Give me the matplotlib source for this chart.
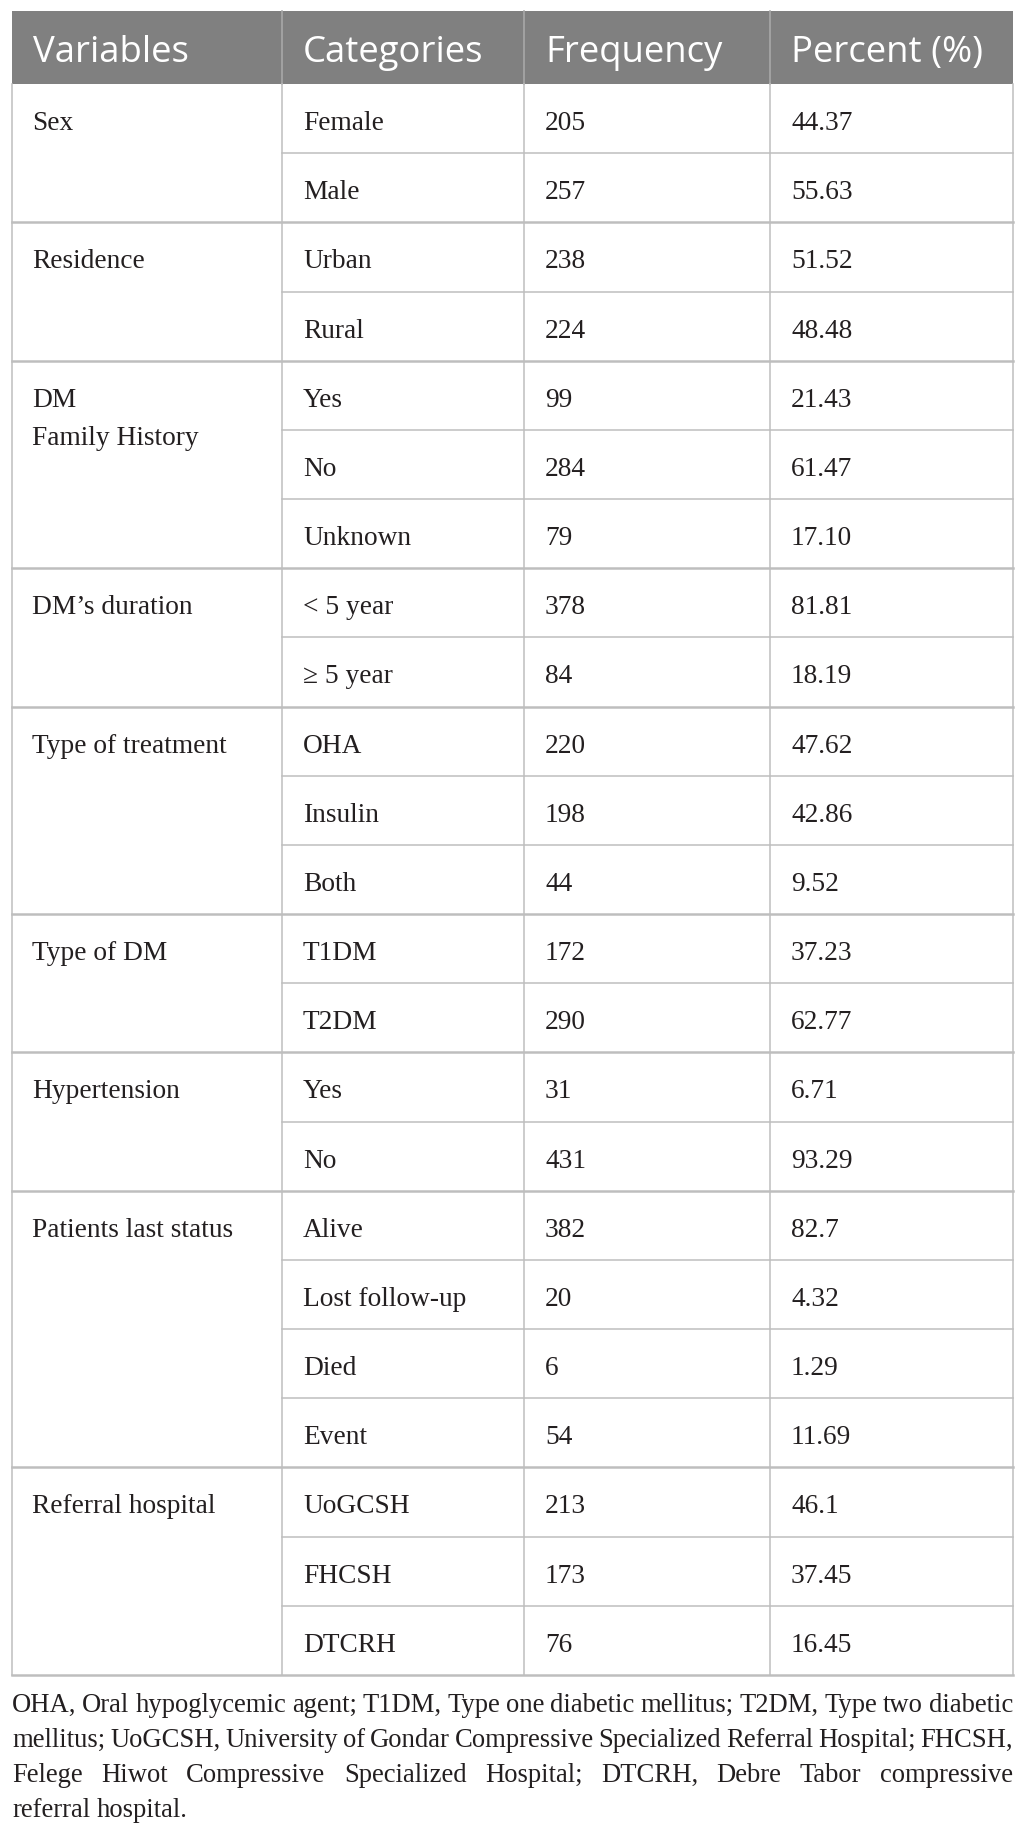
import matplotlib
matplotlib.use("Agg")
import matplotlib.pyplot as plt

# table content
headers = ["Variables", "Categories", "Frequency", "Percent (%)"]
variables = ["Sex", "Residence", "DM\nFamily History", "DM\u2019s duration",
             "Type of treatment", "Type of DM", "Hypertension",
             "Patients last status", "Referral hospital"]
group_sizes = [2, 2, 3, 2, 3, 2, 2, 4, 3]
categories = ["Female", "Male", "Urban", "Rural", "Yes", "No", "Unknown",
              "< 5 year", "\u2265 5 year", "OHA", "Insulin", "Both", "T1DM", "T2DM",
              "Yes", "No", "Alive", "Lost follow-up", "Died", "Event",
              "UoGCSH", "FHCSH", "DTCRH"]
frequency = [205, 257, 238, 224, 99, 284, 79, 378, 84, 220, 198, 44, 172, 290,
             31, 431, 382, 20, 6, 54, 213, 173, 76]
percent = ["44.37", "55.63", "51.52", "48.48", "21.43", "61.47", "17.10",
           "81.81", "18.19", "47.62", "42.86", "9.52", "37.23", "62.77",
           "6.71", "93.29", "82.7", "4.32", "1.29", "11.69", "46.1", "37.45", "16.45"]
footnote = [
    "OHA, Oral hypoglycemic agent; T1DM, Type one diabetic mellitus; T2DM, Type two diabetic",
    "mellitus; UoGCSH, University of Gondar Compressive Specialized Referral Hospital; FHCSH,",
    "Felege Hiwot Compressive Specialized Hospital; DTCRH, Debre Tabor compressive",
    "referral hospital.",
]

W, H = 1026, 1835
fig = plt.figure(figsize=(W / 100, H / 100), dpi=100)
ax = fig.add_axes([0, 0, 1, 1])
ax.set_xlim(0, W)
ax.set_ylim(H, 0)
ax.axis("off")

left, right = 12, 1013
cols = [left, 282, 524, 770, right]
head_top, head_bot = 11, 84
row_h = (1675 - head_bot) / sum(group_sizes)
pad = 21

serif = ["Liberation Serif", "DejaVu Serif"]
txt_col = "#231f20"
line_col = "#bebebe"
body_fs = 19.7

# header
ax.fill_between([left, right], head_top, head_bot, color="#808080", lw=0)
for x in cols[1:-1]:
    ax.plot([x, x], [head_top, head_bot], color="#a8a8a8", lw=1.2)
for i, h in enumerate(headers):
    ax.text(cols[i] + pad, 62, h, color="white", fontsize=26.3, family="Open Sans",
            va="baseline", ha="left")

# body
n_rows = sum(group_sizes)
bottom = head_bot + n_rows * row_h
for x in cols:
    ax.plot([x, x], [head_bot, bottom], color=line_col, lw=1.1)

r = 0
for var, n in zip(variables, group_sizes):
    top = head_bot + r * row_h
    for j, part in enumerate(var.split("\n")):
        ax.text(cols[0] + pad - 1, top + 46 + j * 38, part, color=txt_col,
                fontsize=body_fs, family=serif, va="baseline", ha="left")
    for k in range(n):
        y0 = head_bot + (r + k) * row_h
        vals = [categories[r + k], str(frequency[r + k]), percent[r + k]]
        for c, v in enumerate(vals):
            ax.text(cols[c + 1] + pad, y0 + 46, v, color=txt_col, fontsize=body_fs,
                    family=serif, va="baseline", ha="left")
        if k > 0:
            ax.plot([cols[1], right], [y0, y0], color=line_col, lw=1.1)
    r += n
    yb = head_bot + r * row_h
    ax.plot([left, right], [yb, yb], color=line_col, lw=1.8)

# footnote, justified
renderer = fig.canvas.get_renderer()
fn_fs = 19.2
base = 1712
for i, line in enumerate(footnote):
    words = line.split(" ")
    objs = [ax.text(0, base + i * 35, w, color=txt_col, fontsize=fn_fs, family=serif,
                    va="baseline", ha="left") for w in words]
    widths = [o.get_window_extent(renderer).width for o in objs]
    if i < len(footnote) - 1:
        gap = (right - left - sum(widths)) / (len(words) - 1)
    else:
        gap = 0.25 * fn_fs * 100 / 72
    x = left
    for o, w in zip(objs, widths):
        o.set_x(x)
        x += w + gap

fig.savefig("out.png", dpi=100)
